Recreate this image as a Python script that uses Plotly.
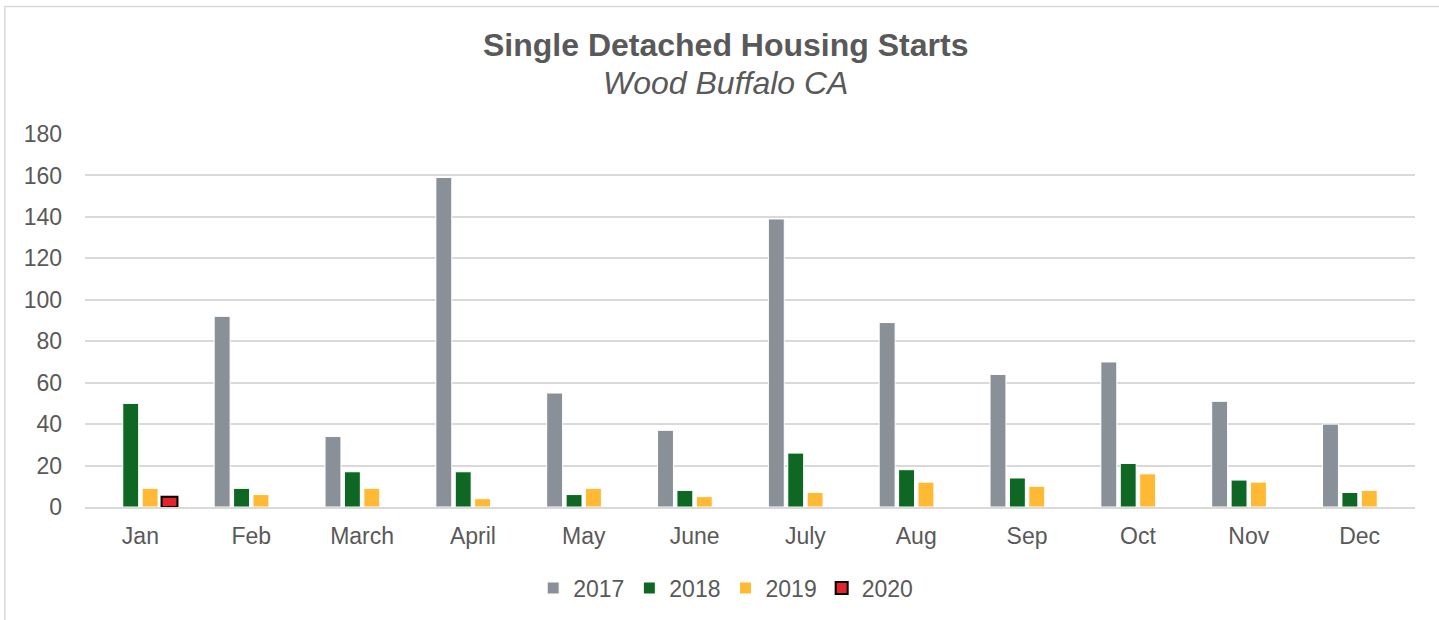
import plotly.graph_objects as go

months = ['Jan', 'Feb', 'March', 'April', 'May', 'June', 'July', 'Aug', 'Sep', 'Oct', 'Nov', 'Dec']
starts_2017 = [0, 92, 34, 159, 55, 37, 139, 89, 64, 70, 51, 40]
starts_2018 = [50, 9, 17, 17, 6, 8, 26, 18, 14, 21, 13, 7]
starts_2019 = [9, 6, 9, 4, 9, 5, 7, 12, 10, 16, 12, 8]
starts_2020 = [5, None, None, None, None, None, None, None, None, None, None, None]

TEXT = '#595959'
GRID = '#D9D9D9'

fig = go.Figure()
series = [
    ('2017', starts_2017, '#8A9097', 'white', 1),
    ('2018', starts_2018, '#0E6723', 'white', 1),
    ('2019', starts_2019, '#FFB932', 'white', 1),
    ('2020', starts_2020, '#E3242B', 'black', 2),
]
for name, vals, color, line_color, lw in series:
    fig.add_trace(go.Bar(
        x=months, y=vals, name=name,
        marker=dict(color=color, line=dict(color=line_color, width=lw)),
    ))

# outer chart border (partly cropped in the original)
fig.add_shape(type='rect', xref='paper', yref='paper',
              x0=-0.0602, x1=1.2, y0=-0.6, y1=1.342,
              line=dict(color=GRID, width=1.5), fillcolor='rgba(0,0,0,0)', layer='below')

# title + subtitle
fig.add_annotation(text='<b>Single Detached Housing Starts</b>', xref='paper', yref='paper',
                   x=0.4817, y=1.238, xanchor='center', yanchor='middle', showarrow=False,
                   font=dict(size=32, color=TEXT))
fig.add_annotation(text='<i>Wood Buffalo CA</i>', xref='paper', yref='paper',
                   x=0.4817, y=1.136, xanchor='center', yanchor='middle', showarrow=False,
                   font=dict(size=32, color=TEXT))

fig.update_layout(
    width=1439, height=620,
    paper_bgcolor='white', plot_bgcolor='white',
    font=dict(family='Liberation Sans, Arial, sans-serif', color=TEXT, size=23),
    barmode='group', bargap=0.3, bargroupgap=0.18,
    margin=dict(l=85, r=24, t=134, b=112),
    showlegend=True,
    legend=dict(orientation='h', x=0.4817, xanchor='center', y=-0.214, yanchor='middle',
                font=dict(size=23, color=TEXT), itemwidth=30, traceorder='normal'),
    xaxis=dict(showgrid=False, showline=True, linecolor=GRID, linewidth=1.5,
               ticks='', ticklabelstandoff=8, tickfont=dict(size=23, color=TEXT)),
    yaxis=dict(range=[0, 180], dtick=20, showgrid=True, gridcolor=GRID, gridwidth=1.5,
               zeroline=False, showline=False, ticks='', ticklabelstandoff=22,
               tickfont=dict(size=23, color=TEXT)),
)

fig.write_html('out.html', config={'displayModeBar': False},
               post_script="document.body.style.margin='0';")
